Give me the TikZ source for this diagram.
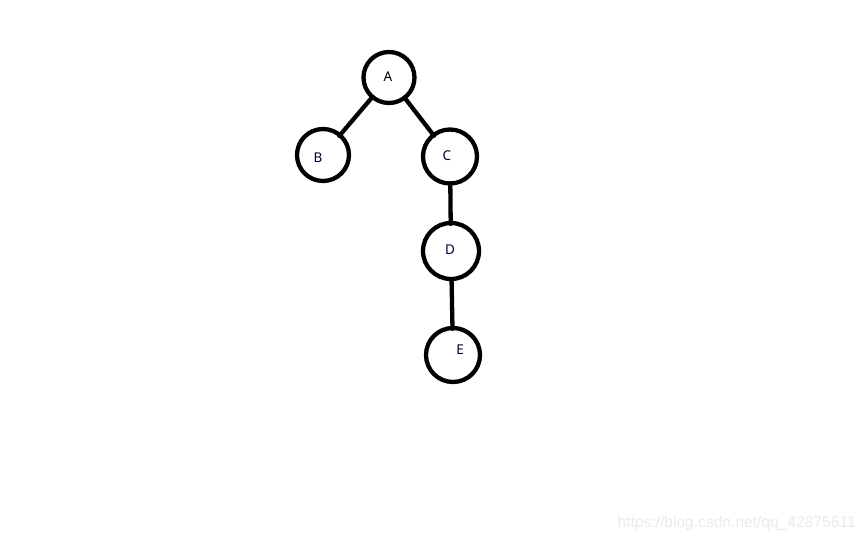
\documentclass[tikz,border=0pt]{standalone}
\usepackage{fontspec}
\setmainfont{Noto Sans}
\newfontfamily\wmfont{Liberation Sans}
\begin{document}
\begin{tikzpicture}[x=1pt,y=-1pt,
  vtx/.style={circle,draw=black,line width=4.3pt,minimum size=#1,inner sep=0pt},
  lbl/.style={font=\fontsize{13.5}{15}\selectfont,text=black!80!blue},
  edge/.style={line width=4.3pt,line cap=round}]
\useasboundingbox (0,0) rectangle (864,540);
\fill[white] (0,0) rectangle (864,540);
\node[vtx=51pt] (A) at (389,77.5) {};
\node[vtx=52pt] (B) at (323,155) {};
\node[vtx=54pt] (C) at (450,156.5) {};
\node[vtx=56pt] (D) at (451,251) {};
\node[vtx=54pt] (E) at (453,355) {};
\node[lbl,text=black] (lA) at (388,77) {A};
\node[lbl] (lB) at (318,158) {B};
\node[lbl] (lC) at (447,156) {C};
\node[lbl] (lD) at (450,250) {D};
\node[lbl] (lE) at (460,350) {E};
\draw[edge,shorten <=-2pt,shorten >=-3pt] (A) -- (B);
\draw[edge,shorten <=-2pt,shorten >=-3pt] (A) -- (C);
\draw[edge,shorten <=-2pt,shorten >=-3pt] (C) -- (D);
\draw[edge,shorten <=-2pt,shorten >=-3pt] (D) -- (E);
\node[font=\wmfont\fontsize{15.6}{17}\selectfont,text=black!8,anchor=base east,inner sep=0pt] (wm) at (856,527) {https://blog.csdn.net/qq\_42875611};
\end{tikzpicture}
\end{document}
